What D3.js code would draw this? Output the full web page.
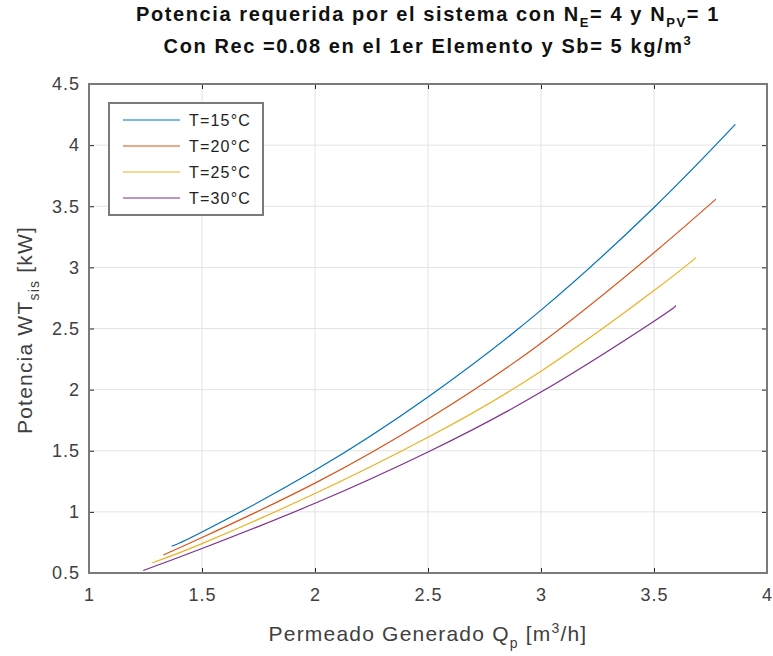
<!DOCTYPE html>
<html>
<head>
<meta charset="utf-8">
<style>
  body { margin: 0; background: #fff; }
  svg { font-family: "Liberation Sans", Arial, sans-serif; }
</style>
</head>
<body>
<svg id="chart" width="773" height="656"></svg>
<script src="https://cdn.jsdelivr.net/npm/d3@7"></script>
<script>
// values
var seriesNames = ['T=15°C', 'T=20°C', 'T=25°C', 'T=30°C'];
var seriesColors = ['#0072BD', '#D95319', '#EDB120', '#7E2F8E'];
var q15 = [1.366, 1.5, 2, 2.5, 3, 3.5, 3.86];
var p15 = [0.72, 0.835, 1.34, 1.94, 2.65, 3.49, 4.17];
var q20 = [1.329, 1.5, 2, 2.5, 3, 3.5, 3.774];
var p20 = [0.647, 0.79, 1.235, 1.76, 2.38, 3.12, 3.558];
var q25 = [1.28, 1.5, 2, 2.5, 3, 3.5, 3.686];
var p25 = [0.584, 0.74, 1.15, 1.61, 2.15, 2.81, 3.08];
var q30 = [1.24, 1.5, 2, 2.5, 3, 3.5, 3.593];
var p30 = [0.52, 0.70, 1.07, 1.49, 1.98, 2.56, 2.685];
var xTicks = [1, 1.5, 2, 2.5, 3, 3.5, 4];
var yTicks = [0.5, 1, 1.5, 2, 2.5, 3, 3.5, 4, 4.5];

var series = [[q15, p15], [q20, p20], [q25, p25], [q30, p30]].map(function (s, i) {
  return { name: seriesNames[i], color: seriesColors[i],
    points: s[0].map(function (q, j) { return { q: q, p: s[1][j] }; }) };
});

var svg = d3.select('#chart');
var pLeft = 89, pRight = 767, pTop = 84, pBottom = 573;
var x = d3.scaleLinear().domain([1, 4]).range([pLeft, pRight]);
var y = d3.scaleLinear().domain([0.5, 4.5]).range([pBottom, pTop]);

// grid
svg.append('g').selectAll('line').data(xTicks.slice(1, -1)).enter().append('line')
  .attr('x1', function (d) { return x(d); }).attr('x2', function (d) { return x(d); })
  .attr('y1', pTop).attr('y2', pBottom).attr('stroke', '#e3e3e3').attr('stroke-width', 1);
svg.append('g').selectAll('line').data(yTicks.slice(1, -1)).enter().append('line')
  .attr('y1', function (d) { return y(d); }).attr('y2', function (d) { return y(d); })
  .attr('x1', pLeft).attr('x2', pRight).attr('stroke', '#e3e3e3').attr('stroke-width', 1);

// lines
var line = d3.line().x(function (d) { return x(d.q); }).y(function (d) { return y(d.p); })
  .curve(d3.curveNatural);
svg.append('g').selectAll('path').data(series).enter().append('path')
  .attr('d', function (d) { return line(d.points); })
  .attr('fill', 'none').attr('stroke', function (d) { return d.color; }).attr('stroke-width', 1.2);

// axes (ticks inward, box on all sides)
var axisColor = '#7a7a7a';
function styleAxis(g) {
  g.select('.domain').remove();
  g.selectAll('.tick line').attr('stroke', '#262626');
  g.selectAll('.tick text').attr('fill', '#404040').style('font-size', '18px')
    .style('letter-spacing', '1px');
}
svg.append('g').attr('transform', 'translate(0,' + pBottom + ')')
  .call(d3.axisBottom(x).tickValues(xTicks).tickFormat(d3.format('')).tickSizeInner(-5).tickPadding(15))
  .call(styleAxis);
svg.append('g').attr('transform', 'translate(' + pLeft + ',0)')
  .call(d3.axisLeft(y).tickValues(yTicks).tickFormat(d3.format('')).tickSizeInner(-5).tickPadding(9))
  .call(styleAxis);
svg.append('g').attr('transform', 'translate(0,' + pTop + ')')
  .call(d3.axisTop(x).tickValues(xTicks).tickFormat('').tickSizeInner(-5))
  .call(styleAxis);
svg.append('g').attr('transform', 'translate(' + pRight + ',0)')
  .call(d3.axisRight(y).tickValues(yTicks).tickFormat('').tickSizeInner(-5))
  .call(styleAxis);
svg.append('rect').attr('x', pLeft).attr('y', pTop).attr('width', pRight - pLeft).attr('height', pBottom - pTop)
  .attr('fill', 'none').attr('stroke', axisColor).attr('stroke-width', 2);

// titles
var title = svg.append('g').attr('fill', '#111').style('font-weight', 'bold').style('font-size', '20px')
  .style('letter-spacing', '1.6px').attr('text-anchor', 'middle');
var t1 = title.append('text').attr('x', 428).attr('y', 21);
t1.append('tspan').text('Potencia requerida por el sistema con N');
t1.append('tspan').attr('dy', 6).style('font-size', '13px').text('E');
t1.append('tspan').attr('dy', -6).text('= 4 y N');
t1.append('tspan').attr('dy', 6).style('font-size', '13px').text('PV');
t1.append('tspan').attr('dy', -6).text('= 1');
var t2 = title.append('text').attr('x', 428).attr('y', 53);
t2.append('tspan').text('Con Rec =0.08 en el 1er Elemento y Sb= 5 kg/m');
t2.append('tspan').attr('dy', -8).style('font-size', '13px').text('3');

var xl = svg.append('text').attr('x', 428).attr('y', 641).attr('text-anchor', 'middle')
  .attr('fill', '#404040').style('font-size', '21px').style('letter-spacing', '1.2px');
xl.append('tspan').text('Permeado Generado Q');
xl.append('tspan').attr('dy', 7).style('font-size', '14px').text('p');
xl.append('tspan').attr('dy', -7).text(' [m');
xl.append('tspan').attr('dy', -8).style('font-size', '14px').text('3');
xl.append('tspan').attr('dy', 8).text('/h]');

var yl = svg.append('text').attr('transform', 'translate(32,330) rotate(-90)').attr('text-anchor', 'middle')
  .attr('fill', '#404040').style('font-size', '21px').style('letter-spacing', '1.2px');
yl.append('tspan').text('Potencia WT');
yl.append('tspan').attr('dy', 7).style('font-size', '14px').text('sis');
yl.append('tspan').attr('dy', -7).text(' [kW]');

// legend
var lg = svg.append('g');
lg.append('rect').attr('x', 109).attr('y', 103).attr('width', 154).attr('height', 112)
  .attr('fill', '#fff').attr('stroke', axisColor).attr('stroke-width', 2);
var items = lg.selectAll('g.item').data(series).enter().append('g').attr('class', 'item')
  .attr('transform', function (d, i) { return 'translate(0,' + (120 + i * 26) + ')'; });
items.append('line').attr('x1', 123).attr('x2', 180)
  .attr('stroke', function (d) { return d.color; }).attr('stroke-width', 1.2);
items.append('text').attr('x', 189).attr('y', 6).attr('fill', '#222').style('font-size', '16px')
  .style('letter-spacing', '1.2px').text(function (d) { return d.name; });
</script>
</body>
</html>
